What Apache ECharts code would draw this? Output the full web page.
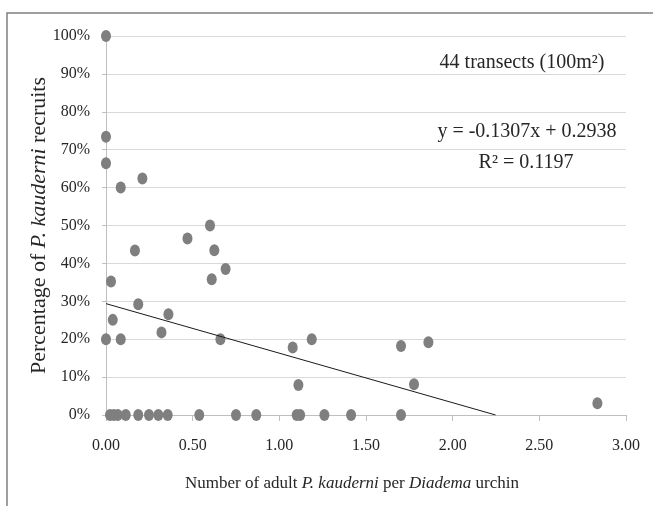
<!DOCTYPE html>
<html>
<head>
<meta charset="utf-8">
<script src="https://cdn.jsdelivr.net/npm/echarts@6/dist/echarts.min.js"></script>
<style>
  html, body { margin: 0; padding: 0; background: #fff; }
  #chart { width: 653px; height: 506px; }
</style>
</head>
<body>
<div id="chart"></div>
<script>
// adult P. kauderni per Diadema urchin (x) vs share of recruits (y)
var ratioPerUrchin = [
  0, 0, 0, 0.085, 0.21, 0.60, 0.47, 0.625, 0.167, 0.61,
  0.69, 0.029, 0.186, 0.039, 0.36, 0, 0.085, 0.32, 0.66, 1.077,
  1.187, 1.11, 1.702, 1.86, 1.777, 2.835,
  0.023, 0.045, 0.068, 0.114, 0.186, 0.248, 0.302, 0.356, 0.538, 0.75,
  0.867, 1.10, 1.12, 1.26, 1.414, 1.702
];
var recruitShare = [
  1.00, 0.734, 0.664, 0.60, 0.624, 0.50, 0.466, 0.435, 0.434, 0.358,
  0.385, 0.352, 0.292, 0.251, 0.266, 0.20, 0.20, 0.218, 0.20, 0.178,
  0.20, 0.079, 0.182, 0.192, 0.081, 0.031,
  0, 0, 0, 0, 0, 0, 0, 0, 0, 0,
  0, 0, 0, 0, 0, 0
];

// linear fit printed on the chart
var trendSlope = -0.1307;
var trendIntercept = 0.2938;
var rSquared = 0.1197;

var xTicks = [0, 0.5, 1, 1.5, 2, 2.5, 3];
var yTicks = [0, 0.1, 0.2, 0.3, 0.4, 0.5, 0.6, 0.7, 0.8, 0.9, 1];

var points = ratioPerUrchin.map(function (x, i) { return [x, recruitShare[i]]; });
var xZero = -trendIntercept / trendSlope;
var trendLine = [[0, trendIntercept], [xZero, 0]];

var serif = '"Liberation Serif", "DejaVu Serif", serif';
var textColor = '#262626';

var chart = echarts.init(document.getElementById('chart'));

var option = {
  backgroundColor: '#fff',
  animation: false,
  grid: { left: 106, right: 27, top: 36, bottom: 91 },
  xAxis: {
    type: 'value',
    min: xTicks[0],
    max: xTicks[xTicks.length - 1],
    interval: 0.5,
    name: '{n|Number of adult }{i|P. kauderni}{n| per }{i|Diadema}{n| urchin}',
    nameLocation: 'middle',
    nameGap: 60,
    nameMoveOverlap: false,
    nameTextStyle: {
      padding: [0, 28, 0, 0],
      rich: {
        n: { fontFamily: serif, fontSize: 17, color: textColor },
        i: { fontFamily: serif, fontSize: 17, color: textColor, fontStyle: 'italic' }
      }
    },
    axisLine: { show: true, onZero: false, lineStyle: { color: '#BFBFBF', width: 1 } },
    axisTick: { show: true, length: 6, lineStyle: { color: '#BFBFBF' } },
    axisLabel: {
      margin: 23,
      fontFamily: serif,
      fontSize: 16,
      color: textColor,
      formatter: function (v) { return v.toFixed(2); }
    },
    splitLine: { show: false }
  },
  yAxis: {
    type: 'value',
    min: yTicks[0],
    max: yTicks[yTicks.length - 1],
    interval: 0.1,
    name: '{n|Percentage of }{i|P. kauderni}{n| recruits}',
    nameLocation: 'middle',
    nameGap: 56,
    nameMoveOverlap: false,
    nameTextStyle: {
      rich: {
        n: { fontFamily: serif, fontSize: 22, color: textColor },
        i: { fontFamily: serif, fontSize: 22, color: textColor, fontStyle: 'italic' }
      }
    },
    axisLine: { show: true, lineStyle: { color: '#BFBFBF', width: 1 } },
    axisTick: { show: true, length: 4, lineStyle: { color: '#BFBFBF' } },
    axisLabel: {
      margin: 16,
      fontFamily: serif,
      fontSize: 16,
      color: textColor,
      formatter: function (v) { return Math.round(v * 100) + '%'; }
    },
    splitLine: { show: true, lineStyle: { color: '#D9D9D9', width: 1 } }
  },
  graphic: [
    {
      type: 'rect',
      shape: { x: 7, y: 13, width: 700, height: 600 },
      style: { fill: null, stroke: '#808080', lineWidth: 1.5 },
      silent: true
    },
    {
      type: 'text',
      x: 522, y: 63,
      style: {
        text: '44 transects (100m\u00B2)',
        font: '20px ' + serif,
        fill: textColor,
        align: 'center',
        verticalAlign: 'middle'
      }
    },
    {
      type: 'text',
      x: 527, y: 132,
      style: {
        text: 'y = ' + trendSlope.toFixed(4) + 'x + ' + trendIntercept.toFixed(4),
        font: '20px ' + serif,
        fill: textColor,
        align: 'center',
        verticalAlign: 'middle'
      }
    },
    {
      type: 'text',
      x: 526, y: 163,
      style: {
        text: 'R\u00B2 = ' + rSquared.toFixed(4),
        font: '20px ' + serif,
        fill: textColor,
        align: 'center',
        verticalAlign: 'middle'
      }
    }
  ],
  series: [
    {
      name: 'Transects',
      type: 'scatter',
      symbol: 'circle',
      symbolSize: [10, 12],
      itemStyle: { color: '#7F7F7F', opacity: 1 },
      data: points,
      z: 3
    },
    {
      name: 'Linear fit',
      type: 'line',
      data: trendLine,
      symbol: 'none',
      lineStyle: { color: '#1a1a1a', width: 1 },
      z: 4
    }
  ]
};

chart.setOption(option);
</script>
</body>
</html>
